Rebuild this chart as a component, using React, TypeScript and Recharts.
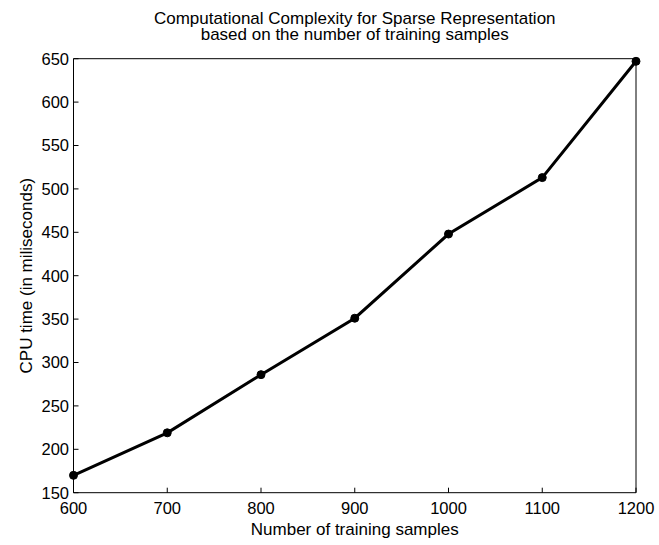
import React from 'react';
import { LineChart, Line, XAxis, YAxis, Label } from 'recharts';

// training set sizes and measured CPU time (ms)
const samples = [600, 700, 800, 900, 1000, 1100, 1200];
const cpuTime = [170, 219, 286, 351, 448, 513, 647];

const xTicks = [600, 700, 800, 900, 1000, 1100, 1200];
const yTicks = [150, 200, 250, 300, 350, 400, 450, 500, 550, 600, 650];

const titleLines = [
    'Computational Complexity for Sparse Representation',
    'based on the number of training samples',
];

const FONT = '"Liberation Sans", Arial, Helvetica, sans-serif';

const data = samples.map((n, i) => ({ n, t: cpuTime[i] }));

const App: React.FC = () => {
    return (
        <div
            style={{
                position: 'absolute',
                left: 0,
                top: 0,
                width: 659,
                height: 545,
                overflow: 'hidden',
                fontFamily: FONT,
                background: '#fff',
            }}
        >
            <div
                style={{
                    position: 'absolute',
                    left: -5.25,
                    width: 720,
                    top: 11.4,
                    textAlign: 'center',
                    fontSize: 17,
                    lineHeight: '15.5px',
                    color: '#000',
                    zIndex: 1,
                }}
            >
                {titleLines.map((l) => (
                    <div key={l}>{l}</div>
                ))}
            </div>
            <LineChart
                width={659}
                height={545}
                data={data}
                margin={{ top: 48.7, right: 13, bottom: 12.3, left: 13.5 }}
                style={{ position: 'absolute', left: 0, top: 0 }}
            >
                <XAxis
                    dataKey="n"
                    type="number"
                    domain={[600, 1200]}
                    ticks={xTicks}
                    height={40}
                    tickSize={-5}
                    tickMargin={15}
                    stroke="#000"
                    tick={{ fill: '#000', fontSize: 16.5, fontFamily: FONT }}
                    interval={0}
                >
                    <Label
                        value="Number of training samples"
                        position="center"
                        dy={16}
                        style={{ fill: '#000', fontSize: 17, fontFamily: FONT }}
                    />
                </XAxis>
                <XAxis
                    xAxisId="top"
                    dataKey="n"
                    type="number"
                    orientation="top"
                    domain={[600, 1200]}
                    ticks={xTicks}
                    height={10}
                    tickSize={-5}
                    tick={false}
                    stroke="#000"
                />
                <YAxis
                    type="number"
                    domain={[150, 650]}
                    ticks={yTicks}
                    width={60}
                    tickSize={-5}
                    tickMargin={9.5}
                    stroke="#000"
                    tick={{ fill: '#000', fontSize: 16.5, fontFamily: FONT }}
                    interval={0}
                >
                    <Label
                        value="CPU time (in miliseconds)"
                        angle={-90}
                        position="center"
                        dx={-17.5}
                        style={{ fill: '#000', fontSize: 17, fontFamily: FONT, textAnchor: 'middle' }}
                    />
                </YAxis>
                <YAxis
                    yAxisId="right"
                    type="number"
                    orientation="right"
                    domain={[150, 650]}
                    ticks={yTicks}
                    width={10}
                    tickSize={-5}
                    tick={false}
                    stroke="#000"
                />
                <Line
                    dataKey="t"
                    stroke="#000"
                    strokeWidth={3}
                    dot={{ r: 4, fill: '#000', stroke: '#000', strokeWidth: 1 }}
                    isAnimationActive={false}
                />
            </LineChart>
        </div>
    );
};

export default App;
